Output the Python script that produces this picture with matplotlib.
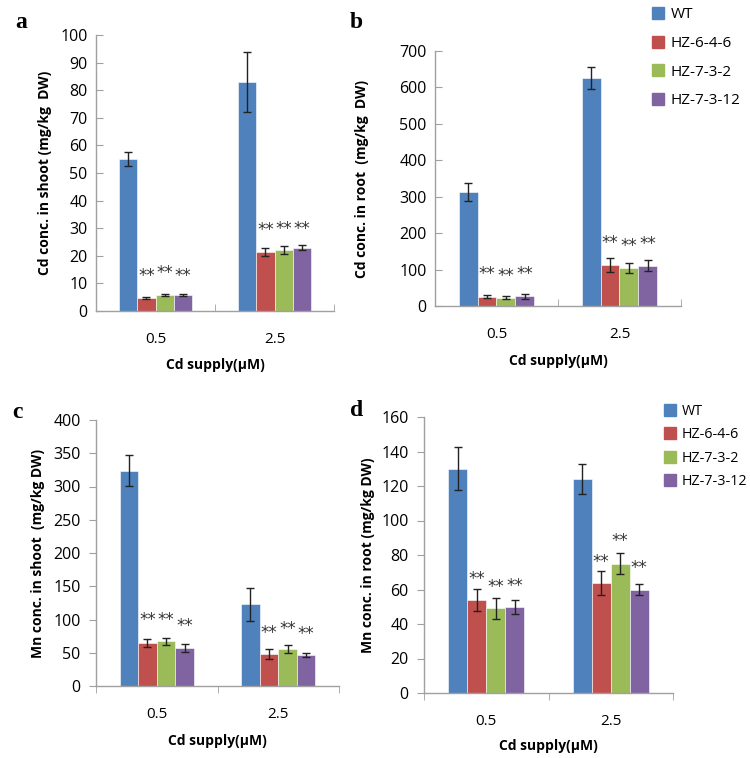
import matplotlib
matplotlib.use("Agg")
import matplotlib.pyplot as plt
import numpy as np
from matplotlib.lines import Line2D

plt.rcParams['font.family'] = ['Open Sans', 'DejaVu Sans']

categories = ["0.5", "2.5"]
lines = ["WT", "HZ-6-4-6", "HZ-7-3-2", "HZ-7-3-12"]
colors = ["#4F81BD", "#C0504D", "#9BBB59", "#8064A2"]

# Panel a: Cd in shoot
a_vals = [[55, 83], [4.7, 21.5], [5.7, 22], [5.7, 23]]
a_err = [[2.5, 11], [0.3, 1.5], [0.4, 1.5], [0.3, 0.8]]
a_star = [[None, None], [9.5, 26], [10.5, 26.5], [9.5, 26.5]]

# Panel b: Cd in root
b_vals = [[313, 626], [25.6, 112], [23, 104], [26.5, 110]]
b_err = [[25, 31], [5, 20], [4, 13], [6, 15]]
b_star = [[None, None], [62, 148], [58, 140], [62, 146]]

# Panel c: Mn in shoot
c_vals = [[324, 123], [65, 48], [67, 55], [57, 46]]
c_err = [[23, 25], [6, 7], [5.5, 6], [6.5, 3]]
c_star = [[None, None], [85, 66], [86, 72], [76, 65]]

# Panel d: Mn in root
d_vals = [[130, 124], [54, 64], [49, 75], [50, 60]]
d_err = [[12.5, 8.5], [6.5, 7], [6, 6], [4, 3]]
d_star = [[None, None], [61, 71], [56, 83], [57, 67]]

panels = [
    dict(vals=a_vals, err=a_err, star=a_star, ymax=100, step=10,
         ylabel="Cd conc. in shoot (mg/kg  DW)", letter="a", tdir="in",
         rect=[96, 334, 35, 311], ylx=45, xly=366, lx=15, ly=23),
    dict(vals=b_vals, err=b_err, star=b_star, ymax=700, step=100,
         ylabel="Cd conc. in root  (mg/kg  DW)", letter="b", tdir="in",
         rect=[435, 681, 51, 306], ylx=362, xly=362, lx=350, ly=23),
    dict(vals=c_vals, err=c_err, star=c_star, ymax=400, step=50,
         ylabel="Mn conc. in shoot  (mg/kg DW)", letter="c", tdir="out",
         rect=[96, 339, 420, 686], ylx=38, xly=742, lx=12, ly=412),
    dict(vals=d_vals, err=d_err, star=d_star, ymax=160, step=20,
         ylabel="Mn conc. in root (mg/kg DW)", letter="d", tdir="out",
         rect=[424, 673, 417, 693], ylx=368, xly=747, lx=350, ly=410),
]

W, H = 750, 758
fig = plt.figure(figsize=(7.5, 7.58), dpi=100)
gray = "#A0A0A0"
width = 0.153
offsets = (np.arange(4) - 1.5) * width
x = np.arange(len(categories))

for p in panels:
    l, r, t, b = p["rect"]
    ax = fig.add_axes([l / W, 1 - b / H, (r - l) / W, (b - t) / H])
    for i in range(4):
        ax.bar(x + offsets[i], p["vals"][i], width, color=colors[i],
               edgecolor="white", linewidth=0.4, zorder=2)
        ax.errorbar(x + offsets[i], p["vals"][i], yerr=p["err"][i], fmt="none",
                    ecolor="#222222", elinewidth=1.0, capsize=3, capthick=1.0, zorder=3)
        for j in range(len(categories)):
            s = p["star"][i][j]
            if s is not None:
                ax.text(x[j] + offsets[i], s, "**", ha="center", va="bottom",
                        fontsize=12, color="#333333", family="DejaVu Sans")
    ax.set_xlim(-0.5, 1.5)
    ax.set_ylim(0, p["ymax"])
    ax.set_yticks(np.arange(0, p["ymax"] + 1, p["step"]))
    ax.set_xticks(x)
    ax.set_xticklabels(categories)
    ax.set_xticks([-0.5, 0.5, 1.5], minor=True)
    ax.tick_params(axis="x", which="major", length=0, pad=15, labelsize=11)
    ax.tick_params(axis="x", which="minor", length=5, color=gray, direction=p["tdir"])
    ax.tick_params(axis="y", length=5, color=gray, labelsize=11.5, direction=p["tdir"],
                   pad=6)
    for s in ["top", "right"]:
        ax.spines[s].set_visible(False)
    for s in ["left", "bottom"]:
        ax.spines[s].set_color(gray)
        ax.spines[s].set_linewidth(1.0)
    ax.set_ylabel(p["ylabel"], fontsize=10, fontweight="bold")
    ax.yaxis.set_label_coords((p["ylx"] + 7 - l) / (r - l), 0.5)
    ax.set_xlabel("Cd supply(μM)", fontsize=10, fontweight="bold")
    ax.xaxis.set_label_coords(0.5, (b - (p["xly"] - 8)) / (b - t))
    fig.text(p["lx"] / W, 1 - p["ly"] / H, p["letter"], fontsize=17,
             fontweight="bold", family="Liberation Serif", ha="left", va="center")

handles = [Line2D([0], [0], marker="s", linestyle="none", markersize=8,
                  markerfacecolor=c, markeredgecolor=c) for c in colors]
fig.legend(handles, lines, loc="upper left", bbox_to_anchor=(644 / W, 1 - 1 / H),
           frameon=False, fontsize=11, labelspacing=0.9, handletextpad=0.35,
           handlelength=1.0, borderaxespad=0)
fig.legend(handles, lines, loc="upper left", bbox_to_anchor=(657 / W, 1 - 398 / H),
           frameon=False, fontsize=10.3, labelspacing=0.6, handletextpad=0.35,
           handlelength=1.0, borderaxespad=0)

fig.savefig("out.png", dpi=100)
